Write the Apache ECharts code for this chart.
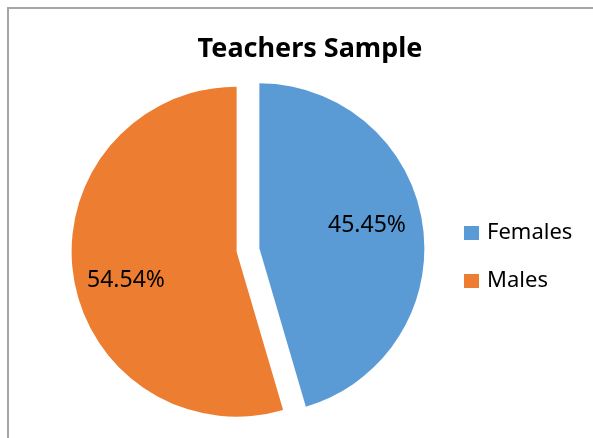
<!DOCTYPE html>
<html>
<head>
<meta charset="utf-8">
<script src="https://cdn.jsdelivr.net/npm/echarts@6/dist/echarts.min.js"></script>
<style>
  html, body { margin: 0; padding: 0; background: #fff; }
  #main { width: 593px; height: 438px; }
</style>
</head>
<body>
<div id="main"></div>
<script>
// 数据
const categories = ['Females', 'Males'];
const values = [45.45, 54.54];
const colors = ['#5B9BD5', '#ED7D31'];

// 标签相对默认 inside 位置的偏移
const labelShift = [[23, -11], [-26, 17]];

const chart = echarts.init(document.getElementById('main'), null, { renderer: 'canvas' });

const option = {
  backgroundColor: '#fff',
  animation: false,
  title: {
    text: 'Teachers Sample',
    left: 305,
    top: 31,
    textAlign: 'center',
    textStyle: {
      fontFamily: 'Noto Sans',
      fontWeight: 'bold',
      fontSize: 27,
      color: '#000'
    }
  },
  legend: {
    orient: 'vertical',
    left: 464,
    top: 222,
    padding: 0,
    icon: 'rect',
    itemWidth: 15,
    itemHeight: 14,
    itemGap: 26,
    selectedMode: false,
    data: categories,
    textStyle: {
      fontFamily: 'Noto Sans',
      fontSize: 22,
      color: '#000',
      padding: [0, 0, 0, 3]
    }
  },
  graphic: [
    {
      type: 'rect',
      shape: { x: 8, y: 8, width: 700, height: 600 },
      style: { fill: 'none', stroke: '#a6a6a6', lineWidth: 2 },
      silent: true,
      z: -1
    }
  ],
  series: [
    {
      type: 'pie',
      center: [248, 250],
      radius: 165,
      startAngle: 90,
      clockwise: true,
      selectedMode: 'multiple',
      selectedOffset: 11.5,
      avoidLabelOverlap: false,
      emphasis: { disabled: true },
      label: {
        show: true,
        position: 'inside',
        formatter: '{c}%',
        fontFamily: 'Noto Sans',
        fontSize: 23,
        color: '#000'
      },
      labelLayout: function (params) {
        const s = labelShift[params.dataIndex];
        return { dx: s[0], dy: s[1] };
      },
      labelLine: { show: false },
      data: categories.map((name, i) => ({
        name: name,
        value: values[i],
        selected: true,
        itemStyle: { color: colors[i] }
      }))
    }
  ]
};

chart.setOption(option);
</script>
</body>
</html>
